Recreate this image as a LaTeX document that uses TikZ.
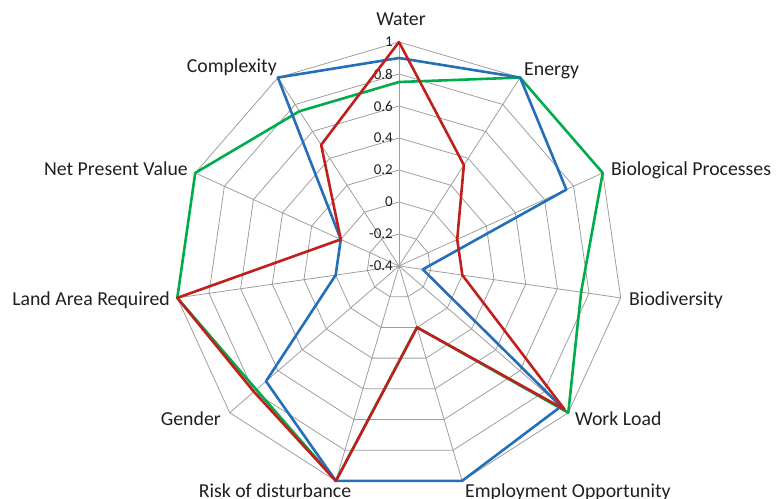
\documentclass[tikz,border=0pt]{standalone}
\usepackage{fontspec}
\setmainfont{Carlito}
\usetikzlibrary{positioning}

\definecolor{serblue}{RGB}{36,110,186}
\definecolor{sergreen}{RGB}{0,172,76}
\definecolor{serred}{RGB}{192,32,28}
\definecolor{labgray}{RGB}{32,32,32}

\begin{document}
\begin{tikzpicture}[x=1pt, y=1pt,
	web/.style={black!38, line width=0.8pt},
	serie/.style={line width=2.6pt, line join=round},
	axislabel/.style={inner sep=0pt, text=labgray, font=\fontsize{19.8}{22}\selectfont},
	ticklabel/.style={inner sep=0pt, anchor=east, text=labgray, font=\fontsize{15}{17}\selectfont}]
	\useasboundingbox (-399, -232) rectangle (379, 266);
	% web: spokes and rings
	\foreach \i in {0,...,10} {
		\draw[web] (0, 0)--({90-\i*360/11}:224);
	}
	\foreach \r in {32,64,...,224} {
		\draw[web] (90:\r) \foreach \i in {1,...,10} {--({90-\i*360/11}:\r)} --cycle;
	}
	% scale
	\foreach \t [count=\k from 0] in {-0.4,-0.2,0,0.2,0.4,0.6,0.8,1} {
		\node[ticklabel] (tick\k) at (-6, \k*32) {\t};
	}
	% series
	\foreach \v [count=\i from 0] in {0.75,1,1,0.75,1,0,1,0.78,1,1,0.75} {
		\coordinate (g\i) at ({90-\i*360/11}:{(\v+0.4)*160});
	}
	\foreach \v [count=\i from 0] in {0.9,1,0.75,-0.25,0.94,1,1,0.7,0,0,1} {
		\coordinate (b\i) at ({90-\i*360/11}:{(\v+0.4)*160});
	}
	\foreach \v [count=\i from 0] in {1,0.35,0,0,0.97,0,1,0.8,1,0,0.5} {
		\coordinate (r\i) at ({90-\i*360/11}:{(\v+0.4)*160});
	}
	\draw[serie, sergreen] (g0) \foreach \i in {1,...,10} {--(g\i)} --cycle;
	\draw[serie, serblue] (b0) \foreach \i in {1,...,10} {--(b\i)} --cycle;
	\draw[serie, serred] (r0) \foreach \i in {1,...,10} {--(r\i)} --cycle;
	% axis names
	\node[axislabel, anchor=base] (water) at (2, 240) {Water};
	\node[axislabel, anchor=base west] (energy) at (125, 190) {Energy};
	\node[axislabel, anchor=base west] (bioproc) at (212, 91) {Biological Processes};
	\node[axislabel, anchor=base west] (biodiv) at (230, -39) {Biodiversity};
	\node[axislabel, anchor=base west] (workload) at (176, -159) {Work Load};
	\node[axislabel, anchor=base west] (employ) at (66, -231) {Employment Opportunity};
	\node[axislabel, anchor=base] (risk) at (-124, -231) {Risk of disturbance};
	\node[axislabel, anchor=base east] (gender) at (-178, -159) {Gender};
	\node[axislabel, anchor=base east] (landarea) at (-229, -39) {Land Area Required};
	\node[axislabel, anchor=base east] (npv) at (-211, 91) {Net Present Value};
	\node[axislabel, anchor=base east] (complexity) at (-122, 193) {Complexity};
\end{tikzpicture}
\end{document}
